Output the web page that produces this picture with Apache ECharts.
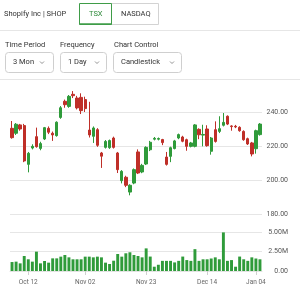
<!DOCTYPE html>
<html>
<head>
    <meta charset="utf-8">
    <title>Shopify Inc | SHOP</title>
    <style>html,body{margin:0;padding:0;background:#fff;}</style>
</head>
<body>
    <div id="main" style="width:300px;height:291px;"></div>
<script src="https://cdn.jsdelivr.net/npm/echarts@6/dist/echarts.min.js"></script>
<script>
// trading days (TSX holidays left out)
var dates = [
    '2020-10-06','2020-10-07','2020-10-08','2020-10-09','2020-10-13','2020-10-14','2020-10-15','2020-10-16',
    '2020-10-19','2020-10-20','2020-10-21','2020-10-22','2020-10-23','2020-10-26','2020-10-27','2020-10-28',
    '2020-10-29','2020-10-30','2020-11-02','2020-11-03','2020-11-04','2020-11-05','2020-11-06','2020-11-09',
    '2020-11-10','2020-11-11','2020-11-12','2020-11-13','2020-11-16','2020-11-17','2020-11-18','2020-11-19',
    '2020-11-20','2020-11-23','2020-11-24','2020-11-25','2020-11-26','2020-11-27','2020-11-30','2020-12-01',
    '2020-12-02','2020-12-03','2020-12-04','2020-12-07','2020-12-08','2020-12-09','2020-12-10','2020-12-11',
    '2020-12-14','2020-12-15','2020-12-16','2020-12-17','2020-12-18','2020-12-21','2020-12-22','2020-12-23',
    '2020-12-24','2020-12-29','2020-12-30','2020-12-31','2021-01-04','2021-01-05'
];
var opens = [230.4,227.5,232.4,232.0,209.2,218.8,225.5,218.6,224.1,230.4,227.5,226.1,236.8,246.3,243.3,250.4,
    248.2,248.6,247.3,229.4,225.7,229.6,215.9,219.2,219.0,224.7,215.9,199.6,201.6,192.9,198.2,216.5,
    204.7,209.4,217.8,224.0,224.0,223.8,213.5,213.9,218.5,224.7,225.3,223.7,219.8,219.8,229.8,226.4,
    230.0,216.9,229.6,228.6,232.2,237.5,231.8,231.6,231.0,228.6,224.3,221.8,218.4,226.7];
var closes = [224.9,232.8,230.0,211.2,215.7,219.8,219.6,221.4,230.8,228.1,226.5,234.0,242.5,244.3,249.2,249.6,
    242.4,240.8,242.0,226.5,230.6,220.4,214.0,222.7,223.2,219.2,206.1,205.1,196.9,196.9,206.1,204.1,
    208.6,219.2,222.2,224.5,224.4,222.0,209.2,219.0,223.0,226.7,222.8,219.8,221.8,232.4,226.6,226.8,
    220.2,224.7,222.7,230.2,233.9,232.9,231.4,231.2,229.0,223.7,221.2,215.3,229.0,232.9];
var lows = [224.3,226.5,229.0,210.5,204.5,218.0,219.0,217.5,223.5,227.0,223.0,225.5,236.0,242.5,242.5,248.2,
    241.5,238.8,240.0,225.0,221.8,219.5,207.1,218.5,218.3,218.5,204.1,198.0,195.8,191.0,197.5,203.5,
    204.0,208.8,217.0,223.3,223.3,220.5,208.5,210.5,218.0,224.0,222.2,217.2,219.2,219.2,224.0,219.8,
    219.6,214.9,222.0,227.6,231.5,232.3,229.0,230.5,228.4,223.1,220.6,213.9,215.5,226.1];
var highs = [234.7,233.5,233.0,233.0,216.5,221.0,230.8,222.5,231.2,231.5,228.5,234.5,243.5,247.3,250.0,252.3,
    249.5,251.0,249.0,246.0,231.5,230.5,216.5,223.5,223.8,225.5,216.5,205.8,202.5,197.5,206.8,218.0,
    209.5,219.8,223.0,225.3,225.0,224.2,216.5,219.6,223.6,227.3,226.0,224.3,222.4,232.9,230.4,232.5,
    232.2,225.3,234.5,237.5,239.4,238.0,232.2,232.4,231.6,229.2,224.9,222.4,229.6,233.5];
// volume in millions
var volumes = [1.15,1.2,0.98,1.92,1.5,1.2,2.48,0.98,1.28,1.07,1.62,1.62,1.84,2.05,1.75,1.5,
    1.5,1.5,1.84,1.84,1.75,1.84,1.75,1.07,0.9,1.32,2.18,1.84,2.27,2.4,2.05,1.92,
    1.75,2.9,1.85,0.55,0.8,1.3,1.3,1.3,1.1,1.3,1.85,1.4,1.3,2.8,1.3,1.5,
    1.5,1.6,1.75,1.5,4.95,1.3,1.4,0.55,1.85,1.5,1.3,1.75,1.6,1.5];

var tickDates = ['2020-10-13','2020-11-02','2020-11-23','2020-12-14','2021-01-04'];
var tickLabels = ['Oct 12','Nov 02','Nov 23','Dec 14','Jan 04'];
var priceTicks = [180, 200, 220, 240];
var volumeTicks = [0, 2.5, 5];

var green = '#2f9b3a';
var red = '#bf2f28';

var ohlc = [];
for (var i = 0; i < dates.length; i++) {
    ohlc.push([opens[i], closes[i], lows[i], highs[i]]);
}

function isTick(index) {
    return tickDates.indexOf(dates[index]) >= 0;
}

var uiFont = 'Roboto, sans-serif';
function txt(x, y, s, color) {
    return {type: 'text', x: x, y: y, silent: true,
        style: {text: s, fill: color || '#333', fontSize: 7.5, fontFamily: uiFont, verticalAlign: 'middle'}};
}
function box(x, y, w, h, stroke, r) {
    return {type: 'rect', silent: true, shape: {x: x, y: y, width: w, height: h, r: r || 0},
        style: {fill: '#fff', stroke: stroke, lineWidth: 1}};
}
function chevron(x, y) {
    return {type: 'polyline', silent: true, shape: {points: [[x - 2, y - 1], [x, y + 1], [x + 2, y - 1]]},
        style: {stroke: '#777', lineWidth: 0.8, fill: null}};
}
function hline(y) {
    return {type: 'line', silent: true, shape: {x1: 0, y1: y, x2: 300, y2: y},
        style: {stroke: '#e6e6e6', lineWidth: 1}};
}

var myChart = echarts.init(document.getElementById('main'));

myChart.setOption({
    animation: false,
    textStyle: {fontFamily: uiFont},
    graphic: [
        txt(4, 14, 'Shopify Inc | SHOP', '#333'),
        box(111.5, 3.5, 47, 21, '#d3d3d3', 0),
        txt(121, 14, 'NASDAQ', '#333'),
        box(79.5, 3.5, 32, 21, '#3f9c48', 0),
        {type: 'line', silent: true, shape: {x1: 79.5, y1: 24, x2: 111.5, y2: 24}, style: {stroke: '#3f9c48', lineWidth: 1.5}},
        txt(89, 14, 'TSX', '#2e8b3a'),
        hline(30.5),
        txt(5, 45, 'Time Period'),
        txt(60, 45, 'Frequency'),
        txt(114, 45, 'Chart Control'),
        box(5.5, 52.5, 48, 20, '#cfcfcf', 3),
        txt(13, 62.5, '3 Mon'),
        chevron(42, 62.5),
        box(60.5, 52.5, 46, 20, '#cfcfcf', 3),
        txt(68, 62.5, '1 Day'),
        chevron(97, 62.5),
        box(113.5, 52.5, 68, 20, '#cfcfcf', 3),
        txt(121, 62.5, 'Candlestick'),
        chevron(172, 62.5),
        hline(79.5)
    ],
    grid: [
        {left: 10, right: 38, top: 112, height: 102},
        {left: 10, right: 38, top: 232, height: 39}
    ],
    xAxis: [
        {
            type: 'category', gridIndex: 0, data: dates, boundaryGap: true,
            axisLine: {show: false}, axisTick: {show: false}, axisLabel: {show: false},
            splitLine: {show: false}
        },
        {
            type: 'category', gridIndex: 1, data: dates, boundaryGap: true,
            axisLine: {show: true, lineStyle: {color: '#e3e3e3'}},
            axisTick: {show: true, alignWithLabel: true, length: 4, interval: function (index) { return isTick(index); },
                lineStyle: {color: '#cfcfcf'}},
            axisLabel: {
                interval: function (index) { return isTick(index); },
                formatter: function (value) { return tickLabels[tickDates.indexOf(value)]; },
                color: '#666', fontSize: 6.5, margin: 8
            },
            splitLine: {show: false}
        }
    ],
    yAxis: [
        {
            type: 'value', gridIndex: 0, position: 'right',
            min: priceTicks[0], max: priceTicks[priceTicks.length - 1], interval: 20,
            axisLine: {show: false}, axisTick: {show: false},
            axisLabel: {
                formatter: function (v) { return v.toFixed(2); },
                align: 'right', margin: 26, color: '#555', fontSize: 7,
                verticalAlign: 'middle', padding: [0, 0, 7, 0]
            },
            splitLine: {show: true, lineStyle: {color: '#e6e6e6', width: 1}}
        },
        {
            type: 'value', gridIndex: 1, position: 'right',
            min: volumeTicks[0], max: volumeTicks[volumeTicks.length - 1], interval: 2.5,
            axisLine: {show: false}, axisTick: {show: false},
            axisLabel: {
                formatter: function (v) { return v === 0 ? '0.00' : v.toFixed(2) + 'M'; },
                align: 'right', margin: 26, color: '#555', fontSize: 7,
                verticalAlign: 'middle', padding: [0, 0, 7, 0]
            },
            splitLine: {show: true, lineStyle: {color: '#e6e6e6', width: 1}}
        }
    ],
    series: [
        {
            name: 'SHOP', type: 'candlestick', xAxisIndex: 0, yAxisIndex: 0,
            data: ohlc, barWidth: '70%', clip: false,
            itemStyle: {color: green, color0: red, borderColor: green, borderColor0: red, borderWidth: 1}
        },
        {
            name: 'Volume', type: 'bar', xAxisIndex: 1, yAxisIndex: 1,
            data: volumes, barWidth: '72%', clip: false,
            itemStyle: {color: green}
        }
    ]
});
</script>
</body>
</html>
